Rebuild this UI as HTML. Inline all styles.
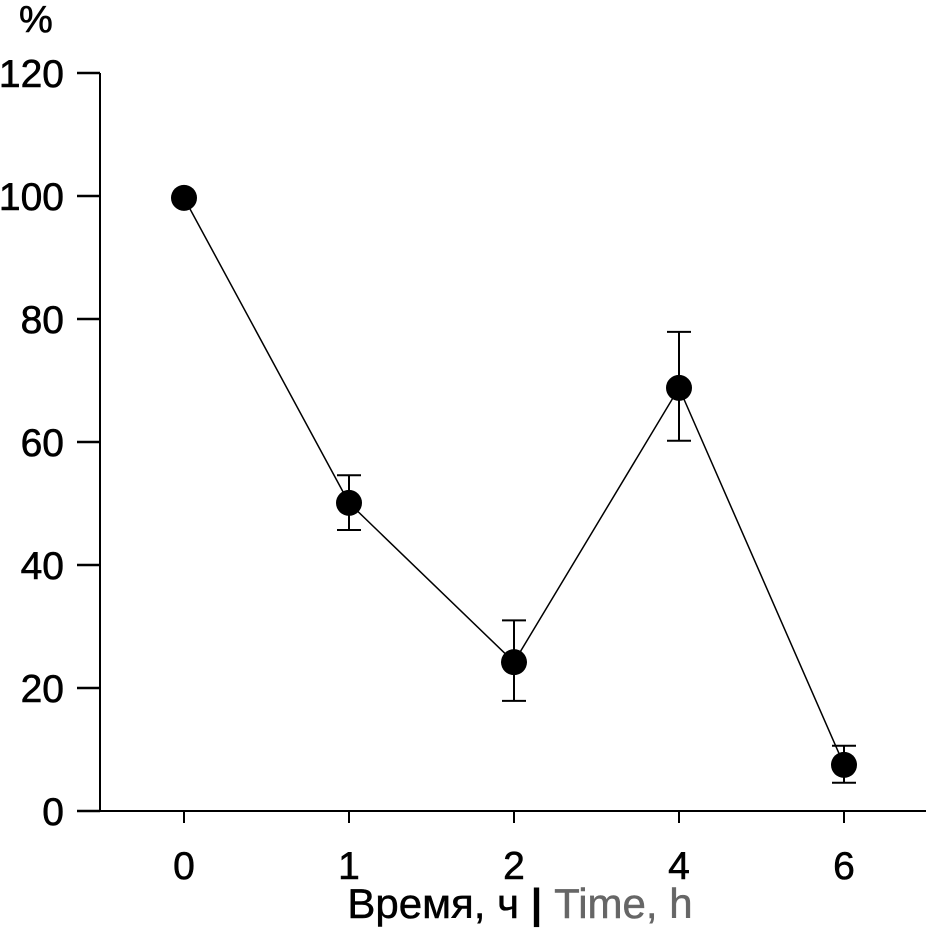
<!DOCTYPE html>
<html><head><meta charset="utf-8"><style>
html,body{margin:0;padding:0;background:#fff;}
svg text{font-family:"Liberation Sans",Arial,sans-serif;}
</style></head><body>
<svg id="chart" width="926" height="931" viewBox="0 0 926 931" xmlns="http://www.w3.org/2000/svg">
<g id="axes"></g><g id="series"></g>
</svg>
<script>
const categories = ["0","1","2","4","6"];
const values = [99.7, 50.1, 24.2, 68.8, 7.5];
const errHigh = [99.7, 54.6, 31.0, 77.9, 10.6];
const errLow = [99.7, 45.7, 17.9, 60.2, 4.6];
const yTicks = [0,20,40,60,80,100,120];

const NS="http://www.w3.org/2000/svg";
const y0=811, yTop=73, yMax=120;
function yScale(v){return y0-(v/yMax)*(y0-yTop);}
function xScale(i){return 184+i*165;}
function mk(tag,attrs,parent,txt){const e=document.createElementNS(NS,tag);for(const k in attrs)e.setAttribute(k,attrs[k]);if(txt!==undefined)e.textContent=txt;parent.appendChild(e);return e;}
const axes=document.getElementById('axes'), series=document.getElementById('series');

let e=mk('line',{x1:100,y1:yTop,x2:100,y2:y0,stroke:'#000','stroke-width':2},axes);


e=mk('line',{x1:100,y1:y0,x2:926,y2:y0,stroke:'#000','stroke-width':2},axes);


yTicks.forEach(t=>{
  const y=yScale(t);
  let l=mk('line',{x1:77,y1:y,x2:100,y2:y,stroke:'#000','stroke-width':2.5},axes);
  
  
  let tx=mk('text',{x:64,y:y+14,'text-anchor':'end','font-size':39,stroke:'#000','stroke-width':0.6},axes,String(t));
  
  
});
categories.forEach((c,i)=>{
  const x=xScale(i);
  let l=mk('line',{x1:x,y1:y0,x2:x,y2:823,stroke:'#000','stroke-width':2},axes);
  
  
  let tx=mk('text',{x:x,y:879,'text-anchor':'middle','font-size':39,stroke:'#000','stroke-width':0.6},axes,c);
  
  
});
let yt=mk('text',{x:19,y:32,'font-size':38,stroke:'#000','stroke-width':0.6},axes,'%');


let xt=mk('text',{x:520,y:918,'text-anchor':'middle','font-size':42},axes);


mk('tspan',{fill:'#000',stroke:'#000','stroke-width':0.5},xt,'Время, ч ');
mk('tspan',{fill:'#000','font-weight':'bold'},xt,'|');
mk('tspan',{fill:'#666',stroke:'#666','stroke-width':0.5},xt,' Time, h');

let pts=values.map((v,i)=>xScale(i)+','+yScale(v)).join(' ');
let pl=mk('polyline',{points:pts,fill:'none',stroke:'#000','stroke-width':1.5},series);


values.forEach((v,i)=>{
  const x=xScale(i);
  if(errHigh[i]!==errLow[i]){
    const g=mk('g',{stroke:'#000','stroke-width':2},series);
    
    
    mk('line',{x1:x,y1:yScale(errHigh[i]),x2:x,y2:yScale(errLow[i])},g);
    mk('line',{x1:x-12,y1:yScale(errHigh[i]),x2:x+12,y2:yScale(errHigh[i])},g);
    mk('line',{x1:x-12,y1:yScale(errLow[i]),x2:x+12,y2:yScale(errLow[i])},g);
  }
  let c=mk('circle',{cx:x,cy:yScale(v),r:13,fill:'#000'},series);
  
  
});
</script>
</body></html>
